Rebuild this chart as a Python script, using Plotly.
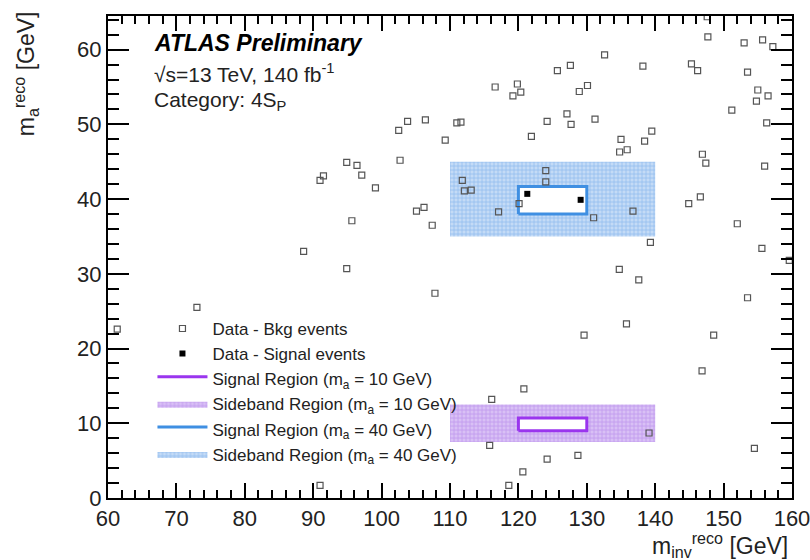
import plotly.graph_objects as go

# Background (sideband-like) data events: m_inv^reco, m_a^reco in GeV
bkg_x = [91.0, 91.5, 88.6,
         116.6, 119.85, 120.35, 119.2, 125.7, 127.1, 124.2, 121.9, 103.8, 106.4, 102.5,
         111.0, 111.6, 109.3, 102.7, 94.9, 96.4, 97.1, 99.1, 95.65, 105.1, 106.2, 107.4,
         111.8, 112.1, 113.1, 117.1, 120.1, 124.0, 124.0,
         127.6, 132.6, 128.9, 130.1, 127.7, 131.2, 138.2, 145.3, 146.2, 147.7, 147.6,
         153.0, 155.7, 157.2, 153.5, 155.0, 156.5, 154.8, 151.2, 156.3, 139.5, 135.0,
         138.45, 134.8, 135.9, 146.9, 147.4, 156.0, 146.6, 144.9, 152.0, 155.6, 139.3,
         136.75, 131.0,
         73.0, 61.35, 91.0,
         94.9, 107.8, 120.8, 116.1, 115.8, 124.2, 120.65, 118.6,
         134.75, 137.6, 153.5, 135.8, 129.6, 148.55, 146.85, 139.1, 128.7, 154.5, 159.6]
bkg_y = [42.5, 43.1, 33.0,
         55.0, 55.4, 54.3, 53.8, 57.2, 51.4, 50.4, 48.4, 50.4, 50.6, 49.2,
         50.2, 50.3, 47.9, 45.2, 44.9, 44.5, 43.2, 41.5, 37.1, 38.4, 38.9, 36.5,
         42.5, 41.1, 41.2, 38.3, 39.4, 43.8, 42.3,
         57.9, 59.3, 54.4, 55.2, 50.0, 50.7, 57.8, 58.1, 57.2, 61.7, 64.4,
         60.9, 61.3, 60.4, 57.0, 54.6, 53.8, 53.1, 51.9, 50.2, 49.1, 48.0,
         47.75, 46.3, 46.6, 46.0, 44.8, 44.4, 40.3, 39.4, 36.7, 33.4, 34.2,
         38.4, 37.5,
         25.5, 22.6, 1.7,
         30.7, 27.4, 14.6, 13.2, 7.05, 5.2, 3.5, 1.7,
         30.6, 29.2, 26.8, 23.3, 21.8, 21.8, 17.0, 8.7, 5.7, 6.65, 31.8]

# Signal-region data events
sig_x = [121.3, 129.1]
sig_y = [40.7, 39.9]

# Region boundaries: (x_lo, x_hi, y_lo, y_hi)
sr10 = (120.0, 130.0, 9.0, 10.7)
sb10 = (110.0, 140.0, 7.5, 12.5)
sr40 = (120.0, 130.0, 38.0, 41.7)
sb40 = (110.0, 140.0, 35.0, 45.0)

BLUE = "#3f8fe2"
PURPLE = "#9a35ee"
FONT = "Liberation Sans, Arial, sans-serif"


def rect(bounds):
    x0, x1, y0, y1 = bounds
    return [x0, x1, x1, x0, x0], [y0, y0, y1, y1, y0]


fig = go.Figure()

# Sideband regions (hatched fill)
for name, b, fg, bg, rank in [
    ("Sideband Region (m<sub>a</sub> = 10 GeV)", sb10, "#a66fe6", "#d9c0f5", 4),
    ("Sideband Region (m<sub>a</sub> = 40 GeV)", sb40, "#5f9fe6", "#c4dbf6", 6),
]:
    xs, ys = rect(b)
    fig.add_trace(go.Scatter(
        x=xs, y=ys, mode="lines", fill="toself", name=name, legendrank=rank,
        line=dict(width=0, color=bg), fillcolor=bg,
        fillpattern=dict(shape="+", fgcolor=fg, bgcolor=bg, size=4, solidity=0.35),
        hoverinfo="skip",
    ))

# Signal regions (open boxes)
for name, b, col, rank in [
    ("Signal Region (m<sub>a</sub> = 10 GeV)", sr10, PURPLE, 3),
    ("Signal Region (m<sub>a</sub> = 40 GeV)", sr40, BLUE, 5),
]:
    xs, ys = rect(b)
    fig.add_trace(go.Scatter(
        x=xs, y=ys, mode="lines", fill="toself", name=name, legendrank=rank,
        line=dict(width=3, color=col), fillcolor="white", hoverinfo="skip",
    ))

fig.add_trace(go.Scatter(
    x=bkg_x, y=bkg_y, mode="markers", name="Data - Bkg events", legendrank=1,
    marker=dict(symbol="square-open", size=6, color="#555555", line=dict(width=1.2)),
))
fig.add_trace(go.Scatter(
    x=sig_x, y=sig_y, mode="markers", name="Data - Signal events", legendrank=2,
    marker=dict(symbol="square", size=6, color="black"),
))

axis_common = dict(
    showgrid=False, zeroline=False, showline=True, linecolor="black", linewidth=2,
    mirror="ticks", ticks="inside", tickcolor="black", tickwidth=2,
    tickfont=dict(family=FONT, size=22, color="#222222"),
    ticklabeloverflow="allow", automargin=False,
)
fig.update_xaxes(range=[60, 160], dtick=10, ticklen=15,
                 minor=dict(ticks="inside", dtick=2, ticklen=8, tickcolor="black", tickwidth=1.5),
                 **axis_common)
fig.update_yaxes(range=[0, 64.5], dtick=10, ticklen=21,
                 minor=dict(ticks="inside", dtick=2, ticklen=11, tickcolor="black", tickwidth=1.5),
                 **axis_common)

annotations = [
    dict(text="<b><i>ATLAS Preliminary</i></b>", x=0.064, y=0.975, xanchor="left", yanchor="top",
         font=dict(family=FONT, size=23, color="black")),
    dict(text="√s=13 TeV, 140 fb<sup>-1</sup>", x=0.064, y=0.912, xanchor="left", yanchor="top",
         font=dict(family=FONT, size=21, color="#222222")),
    dict(text="Category: 4S<sub>P</sub>", x=0.064, y=0.855, xanchor="left", yanchor="top",
         font=dict(family=FONT, size=21, color="#222222")),
    dict(text="m<sub>a</sub><sup>reco</sup> [GeV]", x=-0.12, y=1.015, xanchor="center", yanchor="top",
         textangle=-90, font=dict(family=FONT, size=23, color="#222222")),
    dict(text="m<sub>inv</sub><sup>reco</sup> [GeV]", x=0.997, y=-0.06, xanchor="right", yanchor="top",
         font=dict(family=FONT, size=23, color="#222222")),
]
for a in annotations:
    a.update(xref="paper", yref="paper", showarrow=False)

fig.update_layout(
    width=810, height=560,
    margin=dict(l=108, r=18, t=16, b=62),
    paper_bgcolor="white", plot_bgcolor="white",
    annotations=annotations,
    legend=dict(x=0.065, y=0.054, xanchor="left", yanchor="bottom",
                bgcolor="rgba(0,0,0,0)", font=dict(family=FONT, size=17, color="#222222"),
                tracegroupgap=0, itemwidth=50),
    showlegend=True,
)

fig.write_html("out.html")
